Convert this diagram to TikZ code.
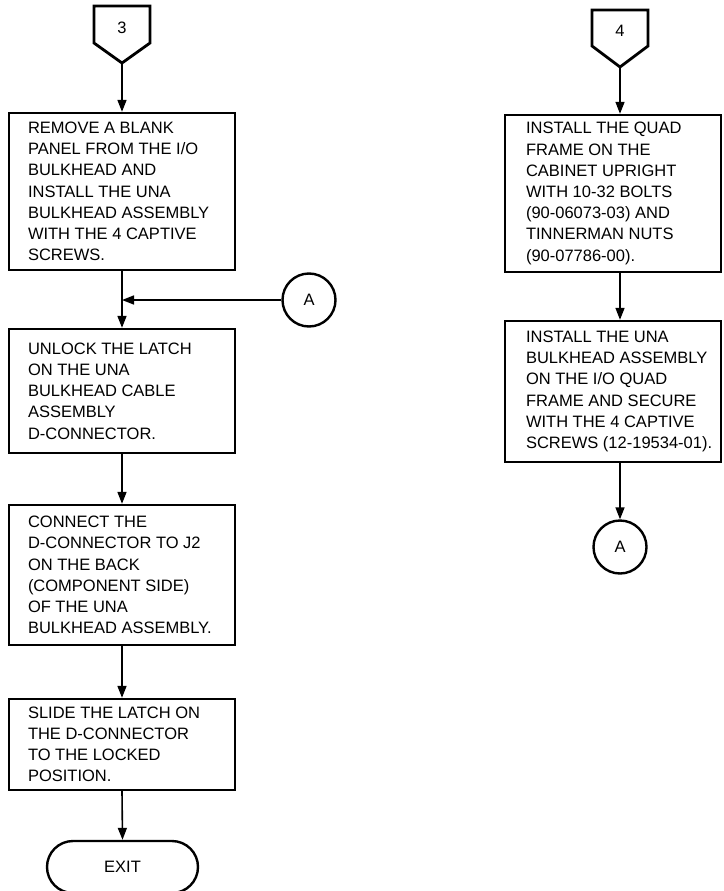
\documentclass[tikz,border=0pt]{standalone}
\usepackage{fontspec}
\setmainfont{Liberation Sans}
\usetikzlibrary{arrows.meta,shapes.misc}
\begin{document}
\begin{tikzpicture}[x=1pt,y=-1pt,
  txtfont/.style={font=\fontsize{16.5}{21.2}\selectfont},
  frame/.style={draw,line width=2.4pt,inner sep=0pt},
  steptext/.style={txtfont,anchor=west,align=left,inner sep=0pt},
  flow/.style={line width=1.6pt,-{Triangle[length=12pt,width=9pt]}},
  plain/.style={line width=1.6pt},
  pent/.style={draw,line width=2.8pt,line join=miter},
  conn/.style={draw,circle,line width=2.4pt,minimum size=53pt,inner sep=0pt,txtfont},
  term/.style={draw,rounded rectangle,line width=2.4pt,minimum width=151pt,minimum height=52pt,inner sep=0pt,txtfont}]
\useasboundingbox (0,0) rectangle (723,891);

% ---------- left procedure (entry 3) ----------
\draw[pent] (94,6) -- (150,6) -- (150,43) -- (122,63) -- (94,43) -- cycle;
\node[txtfont] (n3) at (122,28) {3};
\coordinate (p3) at (122,63);

\node[frame,minimum width=226pt,minimum height=157pt] (b1) at (122,191.5) {};
\node[steptext] (t1) at ([xshift=20pt]b1.west) {REMOVE A BLANK\\PANEL FROM THE I/O\\BULKHEAD AND\\INSTALL THE UNA\\BULKHEAD ASSEMBLY\\WITH THE 4 CAPTIVE\\SCREWS.};

\coordinate (j) at (122,300);
\node[conn] (ca) at (309,300) {A};

\node[frame,minimum width=226pt,minimum height=124pt] (b2) at (122,391) {};
\node[steptext] (t2) at ([xshift=20pt]b2.west) {UNLOCK THE LATCH\\ON THE UNA\\BULKHEAD CABLE\\ASSEMBLY\\D-CONNECTOR.};

\node[frame,minimum width=226pt,minimum height=140pt] (b3) at (122,575) {};
\node[steptext] (t3) at ([xshift=20pt]b3.west) {CONNECT THE\\D-CONNECTOR TO J2\\ON THE BACK\\(COMPONENT SIDE)\\OF THE UNA\\BULKHEAD ASSEMBLY.};

\node[frame,minimum width=226pt,minimum height=91pt] (b4) at (122,744.5) {};
\node[steptext] (t4) at ([xshift=20pt]b4.west) {SLIDE THE LATCH ON\\THE D-CONNECTOR\\TO THE LOCKED\\POSITION.};

\node[term] (ex) at (122.5,867) {EXIT};

\draw[flow] (p3) -- (b1.north);
\draw[plain] (b1.south) -- (j);
\draw[flow] (j) -- (b2.north);
\draw[flow] (ca.west) -- (j);
\draw[flow] (b2.south) -- (b3.north);
\draw[flow] (b3.south) -- (b4.north);
\draw[flow] (b4.south) -- (ex.north);

% ---------- right procedure (entry 4) ----------
\draw[pent] (592,10) -- (648,10) -- (648,46) -- (620,67) -- (592,46) -- cycle;
\node[txtfont] (n4) at (620,31) {4};
\coordinate (p4) at (620,67);

\node[frame,minimum width=216pt,minimum height=157pt] (r1) at (613,193.5) {};
\node[steptext] (s1) at ([xshift=22pt]r1.west) {INSTALL THE QUAD\\FRAME ON THE\\CABINET UPRIGHT\\WITH 10-32 BOLTS\\(90-06073-03) AND\\TINNERMAN NUTS\\(90-07786-00).};

\node[frame,minimum width=216pt,minimum height=141pt] (r2) at (613,391.5) {};
\node[steptext] (s2) at ([xshift=22pt]r2.west) {INSTALL THE UNA\\BULKHEAD ASSEMBLY\\ON THE I/O QUAD\\FRAME AND SECURE\\WITH THE 4 CAPTIVE\\SCREWS (12-19534-01).};

\node[conn] (cb) at (620,547) {A};

\draw[flow] (p4) -- (r1.north -| p4);
\draw[flow] (r1.south -| p4) -- (r2.north -| p4);
\draw[flow] (r2.south -| p4) -- (cb.north);
\end{tikzpicture}
\end{document}
